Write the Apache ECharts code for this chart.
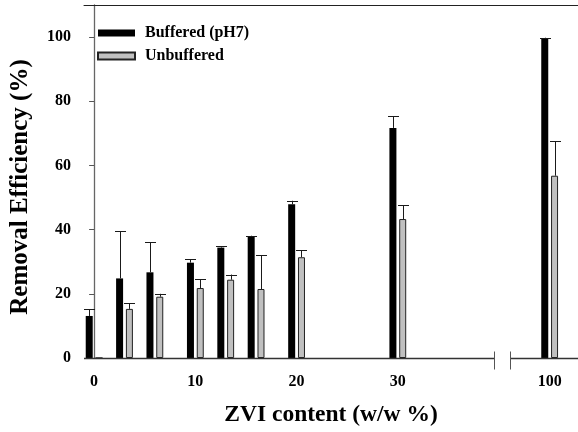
<!DOCTYPE html>
<html>
<head>
<meta charset="utf-8">
<style>
  html, body { margin: 0; padding: 0; background: #fff; }
  #chart { width: 578px; height: 432px; }
</style>
<script src="https://cdn.jsdelivr.net/npm/echarts@6/dist/echarts.min.js"></script>
</head>
<body>
<div id="chart"></div>
<script>
// ZVI content levels (w/w %) and removal efficiency (%), mean and upper error (SD)
const zviContent = [0, 3, 6, 10, 13, 16, 20, 30, 100];
const bufferedMean = [13.1, 24.8, 26.7, 29.7, 34.4, 37.9, 47.9, 71.7, 99.6];
const bufferedSD = [2.1, 14.7, 9.3, 1.1, 0.5, 0.2, 1.1, 3.6, 0.2];
const unbufferedMean = [0, 15.3, 19.1, 21.8, 24.4, 21.5, 31.4, 43.3, 56.8];
const unbufferedSD = [0, 1.8, 0.9, 2.7, 1.6, 10.6, 2.2, 4.3, 10.8];
const xTickValues = [0, 10, 20, 30, 100];
const yTickValues = [0, 20, 40, 60, 80, 100];
const seriesNames = ['Buffered (pH7)', 'Unbuffered'];

// Broken x axis: everything above 40 is shifted left so 100 sits just after the break
const BREAK_SHIFT = 55;
const axisPos = v => (v <= 40 ? v : v - BREAK_SHIFT);
const axisValue = p => (p > 40 ? p + BREAK_SHIFT : p);
const breakFrom = 39.5, breakTo = 41.1;

const FONT = '"Liberation Serif", "Times New Roman", serif';
const BAR_W = 7;
const OFFSET = 4.9;   // half the distance between paired bar centres
const CAP = 11;

const barData = means => zviContent.map((v, i) => [axisPos(v), means[i]]);
const errData = (means, sds) => zviContent.map((v, i) => [axisPos(v), means[i], means[i] + sds[i]]);

function errorRenderer(dx) {
  return function (params, api) {
    const base = api.coord([api.value(0), api.value(1)]);
    const top = api.coord([api.value(0), api.value(2)]);
    const x = Math.round(base[0] + dx) + 0.5;
    const style = { stroke: '#1a1a1a', lineWidth: 1 };
    return {
      type: 'group',
      children: [
        { type: 'line', shape: { x1: x, y1: base[1], x2: x, y2: top[1] }, style },
        { type: 'line', shape: { x1: x - CAP / 2, y1: Math.round(top[1]) + 0.5, x2: x + CAP / 2, y2: Math.round(top[1]) + 0.5 }, style }
      ]
    };
  };
}

// Bottom axis line with a scale break
function baselineRenderer(params, api) {
  const l = api.coord([-1, 0]);
  const a = api.coord([breakFrom, 0]);
  const b = api.coord([breakTo, 0]);
  const r = api.coord([47.8, 0]);
  const y = Math.round(l[1]) + 0.5;
  const style = { stroke: '#333', lineWidth: 1.3 };
  const xa = Math.round(a[0]) + 0.5, xb = Math.round(b[0]) + 0.5;
  return {
    type: 'group',
    children: [
      { type: 'line', shape: { x1: l[0], y1: y, x2: xa, y2: y }, style },
      { type: 'line', shape: { x1: xb, y1: y, x2: r[0], y2: y }, style },
      { type: 'line', shape: { x1: xa, y1: y - 7, x2: xa, y2: y + 11 }, style: { stroke: '#555', lineWidth: 1 } },
      { type: 'line', shape: { x1: xb, y1: y - 7, x2: xb, y2: y + 11 }, style: { stroke: '#555', lineWidth: 1 } }
    ]
  };
}

const chart = echarts.init(document.getElementById('chart'), null, { renderer: 'canvas' });
chart.setOption({
  animation: false,
  backgroundColor: '#fff',
  textStyle: { fontFamily: FONT },
  grid: { left: 82, right: 0, top: 5, bottom: 74, containLabel: false },
  legend: {
    data: seriesNames,
    orient: 'vertical',
    left: 97,
    top: 25,
    padding: 0,
    itemWidth: 37,
    itemHeight: 7,
    itemGap: 7,
    icon: 'rect',
    textStyle: { fontFamily: FONT, fontWeight: 'bold', fontSize: 16, color: '#000', padding: [0, 0, 0, 5] }
  },
  xAxis: [{
    type: 'value',
    min: -1,
    max: 47.8,
    name: 'ZVI content (w/w %)',
    nameLocation: 'middle',
    nameGap: 45,
    nameTextStyle: { fontFamily: FONT, fontWeight: 'bold', fontSize: 23.5, color: '#000' },
    axisLine: { show: false },
    axisTick: { show: false },
    splitLine: { show: false },
    axisLabel: {
      customValues: xTickValues.map(axisPos),
      formatter: p => String(Math.round(axisValue(p))),
      margin: 16,
      fontFamily: FONT, fontWeight: 'bold', fontSize: 16, color: '#000'
    }
  }, {
    type: 'value',
    position: 'top',
    min: -1,
    max: 47.8,
    axisLine: { show: true, lineStyle: { color: '#222', width: 1 } },
    axisTick: { show: false },
    axisLabel: { show: false },
    splitLine: { show: false }
  }],
  yAxis: {
    type: 'value',
    min: 0,
    max: 110,
    interval: 20,
    name: 'Removal Efficiency (%)',
    nameLocation: 'middle',
    nameGap: 51,
    nameRotate: 90,
    nameTextStyle: { fontFamily: FONT, fontWeight: 'bold', fontSize: 25, color: '#000', padding: [0, 11, 0, 0] },
    axisLine: { show: true, lineStyle: { color: '#666', width: 1.3 } },
    axisTick: { show: true, length: 5, customValues: yTickValues, lineStyle: { color: '#555' } },
    splitLine: { show: false },
    axisLabel: {
      customValues: yTickValues,
      margin: 13,
      fontFamily: FONT, fontWeight: 'bold', fontSize: 16, color: '#000'
    }
  },
  series: [
    {
      name: seriesNames[0],
      type: 'bar',
      barWidth: BAR_W,
      barGap: '40%',
      itemStyle: { color: '#000' },
      data: barData(bufferedMean)
    },
    {
      name: seriesNames[1],
      type: 'bar',
      barWidth: BAR_W,
      barGap: '40%',
      itemStyle: { color: '#c0c0c0', borderColor: '#222', borderWidth: 1 },
      data: barData(unbufferedMean)
    },
    {
      type: 'custom',
      renderItem: errorRenderer(-OFFSET),
      data: errData(bufferedMean, bufferedSD),
      z: 3
    },
    {
      type: 'custom',
      renderItem: errorRenderer(OFFSET),
      data: errData(unbufferedMean, unbufferedSD).filter(d => d[2] > d[1]),
      z: 3
    },
    {
      type: 'custom',
      renderItem: baselineRenderer,
      data: [[0, 0]],
      z: 4,
      silent: true
    }
  ]
});
</script>
</body>
</html>
